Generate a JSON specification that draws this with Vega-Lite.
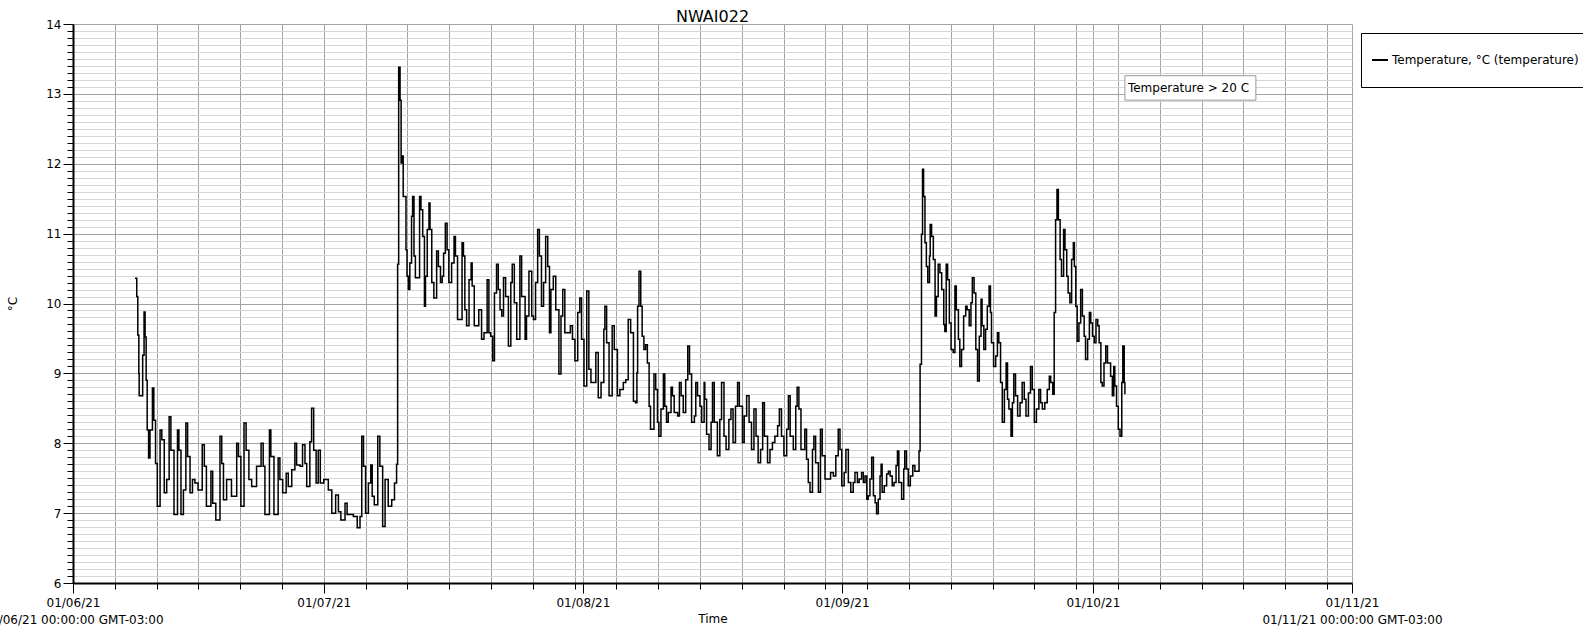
{
  "$schema": "https://vega.github.io/schema/vega-lite/v6.json",
  "width": 1279,
  "height": 559,
  "autosize": {"type": "none"},
  "padding": {"left": 73, "top": 24, "right": 231, "bottom": 46},
  "background": "white",
  "config": {"view": {"stroke": null}, "font": "DejaVu Sans"},
  "title": {"text": "NWAI022", "font": "DejaVu Sans", "fontSize": 16, "fontWeight": "normal", "color": "black", "anchor": "middle", "frame": "group", "baseline": "alphabetic", "offset": 3, "dy": 23},
  "layer": [
    {
      "data": {"values": [
        {"t":"2021-06-08T10:00","v":10.36},{"t":"2021-06-08T15:00","v":10.1},{"t":"2021-06-08T18:00","v":9.55},{"t":"2021-06-08T21:00","v":9.0},{"t":"2021-06-08T22:00","v":8.68},
        {"t":"2021-06-09T07:00","v":8.68},{"t":"2021-06-09T08:00","v":9.26},{"t":"2021-06-09T12:00","v":9.88},{"t":"2021-06-09T15:00","v":9.52},{"t":"2021-06-09T18:00","v":8.9},{"t":"2021-06-09T21:00","v":8.19},
        {"t":"2021-06-10T01:00","v":7.79},{"t":"2021-06-10T05:00","v":8.19},{"t":"2021-06-10T12:00","v":8.79},{"t":"2021-06-10T16:00","v":8.33},{"t":"2021-06-10T21:00","v":7.71},
        {"t":"2021-06-11T02:00","v":7.1},{"t":"2021-06-11T10:00","v":8.19},{"t":"2021-06-11T15:00","v":8.05},{"t":"2021-06-11T22:00","v":7.29},
        {"t":"2021-06-12T05:00","v":7.48},{"t":"2021-06-12T12:00","v":8.38},{"t":"2021-06-12T17:00","v":7.9},
        {"t":"2021-06-13T02:00","v":6.98},{"t":"2021-06-13T12:00","v":8.19},{"t":"2021-06-13T16:00","v":7.9},{"t":"2021-06-13T22:00","v":6.98},
        {"t":"2021-06-14T05:00","v":7.33},{"t":"2021-06-14T12:00","v":8.29},{"t":"2021-06-14T17:00","v":7.81},
        {"t":"2021-06-15T00:00","v":7.29},{"t":"2021-06-15T07:00","v":7.48},{"t":"2021-06-15T14:00","v":7.43},{"t":"2021-06-15T23:00","v":7.33},
        {"t":"2021-06-16T11:00","v":7.98},{"t":"2021-06-16T17:00","v":7.67},{"t":"2021-06-16T23:00","v":7.1},
        {"t":"2021-06-17T12:00","v":7.6},{"t":"2021-06-17T17:00","v":7.14},
        {"t":"2021-06-18T02:00","v":6.9},{"t":"2021-06-18T14:00","v":8.1},{"t":"2021-06-18T19:00","v":7.71},
        {"t":"2021-06-19T00:00","v":7.19},{"t":"2021-06-19T09:00","v":7.48},{"t":"2021-06-19T23:00","v":7.24},
        {"t":"2021-06-20T14:00","v":8.0},{"t":"2021-06-20T19:00","v":7.81},
        {"t":"2021-06-21T02:00","v":7.1},{"t":"2021-06-21T11:00","v":8.29},{"t":"2021-06-21T17:00","v":7.9},
        {"t":"2021-06-22T01:00","v":7.48},{"t":"2021-06-22T09:00","v":7.38},{"t":"2021-06-22T23:00","v":7.67},
        {"t":"2021-06-23T12:00","v":8.0},{"t":"2021-06-23T18:00","v":7.67},{"t":"2021-06-23T23:00","v":6.98},
        {"t":"2021-06-24T12:00","v":8.19},{"t":"2021-06-24T16:00","v":7.81},
        {"t":"2021-06-25T01:00","v":6.98},{"t":"2021-06-25T13:00","v":7.79},{"t":"2021-06-25T18:00","v":7.48},
        {"t":"2021-06-26T02:00","v":7.29},{"t":"2021-06-26T12:00","v":7.57},{"t":"2021-06-26T18:00","v":7.38},
        {"t":"2021-06-27T04:00","v":7.62},{"t":"2021-06-27T13:00","v":8.0},{"t":"2021-06-27T18:00","v":7.69},
        {"t":"2021-06-28T04:00","v":7.67},{"t":"2021-06-28T11:00","v":7.98},{"t":"2021-06-28T18:00","v":7.71},{"t":"2021-06-28T23:00","v":7.38},
        {"t":"2021-06-29T08:00","v":8.02},{"t":"2021-06-29T13:00","v":8.5},{"t":"2021-06-29T19:00","v":7.9},
        {"t":"2021-06-30T02:00","v":7.43},{"t":"2021-06-30T08:00","v":7.9},{"t":"2021-06-30T14:00","v":7.43},
        {"t":"2021-07-01T00:00","v":7.48},{"t":"2021-07-01T13:00","v":7.33},{"t":"2021-07-01T23:00","v":7.0},
        {"t":"2021-07-02T10:00","v":7.26},{"t":"2021-07-02T18:00","v":7.02},
        {"t":"2021-07-03T01:00","v":6.9},{"t":"2021-07-03T13:00","v":7.14},{"t":"2021-07-03T19:00","v":6.98},
        {"t":"2021-07-04T13:00","v":6.95},
        {"t":"2021-07-05T00:00","v":6.79},{"t":"2021-07-05T08:00","v":6.95},{"t":"2021-07-05T13:00","v":8.1},{"t":"2021-07-05T18:00","v":7.67},
        {"t":"2021-07-06T00:00","v":7.0},{"t":"2021-07-06T08:00","v":7.43},{"t":"2021-07-06T15:00","v":7.69},{"t":"2021-07-06T19:00","v":7.24},
        {"t":"2021-07-07T01:00","v":7.12},{"t":"2021-07-07T11:00","v":8.1},{"t":"2021-07-07T17:00","v":7.67},
        {"t":"2021-07-08T01:00","v":6.81},{"t":"2021-07-08T08:00","v":7.48},{"t":"2021-07-08T17:00","v":7.1},
        {"t":"2021-07-09T03:00","v":7.19},{"t":"2021-07-09T11:00","v":7.43},{"t":"2021-07-09T17:00","v":7.7},
        {"t":"2021-07-09T20:00","v":10.56},{"t":"2021-07-09T23:00","v":13.38},
        {"t":"2021-07-10T03:00","v":12.91},{"t":"2021-07-10T06:00","v":12.01},{"t":"2021-07-10T09:00","v":12.11},{"t":"2021-07-10T12:00","v":11.53},{"t":"2021-07-10T17:00","v":11.53},{"t":"2021-07-10T20:00","v":10.77},{"t":"2021-07-10T23:00","v":10.39},
        {"t":"2021-07-11T03:00","v":10.2},{"t":"2021-07-11T07:00","v":10.58},{"t":"2021-07-11T12:00","v":11.25},{"t":"2021-07-11T15:00","v":11.53},{"t":"2021-07-11T19:00","v":10.68},{"t":"2021-07-11T23:00","v":10.37},
        {"t":"2021-07-12T07:00","v":10.37},{"t":"2021-07-12T11:00","v":11.53},{"t":"2021-07-12T15:00","v":11.34},{"t":"2021-07-12T20:00","v":10.96},
        {"t":"2021-07-13T01:00","v":9.96},{"t":"2021-07-13T04:00","v":10.39},{"t":"2021-07-13T09:00","v":11.06},{"t":"2021-07-13T14:00","v":11.44},{"t":"2021-07-13T17:00","v":11.06},{"t":"2021-07-13T22:00","v":10.3},
        {"t":"2021-07-14T04:00","v":10.08},{"t":"2021-07-14T12:00","v":10.75},{"t":"2021-07-14T17:00","v":10.53},{"t":"2021-07-14T23:00","v":10.3},
        {"t":"2021-07-15T04:00","v":10.39},{"t":"2021-07-15T08:00","v":10.72},{"t":"2021-07-15T13:00","v":11.15},{"t":"2021-07-15T18:00","v":10.77},{"t":"2021-07-15T23:00","v":10.3},
        {"t":"2021-07-16T07:00","v":10.58},{"t":"2021-07-16T14:00","v":10.96},{"t":"2021-07-16T18:00","v":10.68},
        {"t":"2021-07-17T00:00","v":9.77},{"t":"2021-07-17T10:00","v":9.77},{"t":"2021-07-17T13:00","v":10.87},{"t":"2021-07-17T17:00","v":10.68},{"t":"2021-07-17T21:00","v":9.91},
        {"t":"2021-07-18T02:00","v":9.68},{"t":"2021-07-18T09:00","v":10.34},{"t":"2021-07-18T15:00","v":10.58},{"t":"2021-07-18T18:00","v":10.25},
        {"t":"2021-07-19T00:00","v":9.68},{"t":"2021-07-19T07:00","v":9.68},{"t":"2021-07-19T13:00","v":9.91},{"t":"2021-07-19T21:00","v":9.49},
        {"t":"2021-07-20T04:00","v":9.58},{"t":"2021-07-20T13:00","v":10.34},{"t":"2021-07-20T18:00","v":9.58},{"t":"2021-07-20T23:00","v":9.53},
        {"t":"2021-07-21T05:00","v":9.18},{"t":"2021-07-21T10:00","v":10.15},{"t":"2021-07-21T16:00","v":10.56},{"t":"2021-07-21T21:00","v":10.2},
        {"t":"2021-07-22T02:00","v":9.91},{"t":"2021-07-22T07:00","v":9.82},{"t":"2021-07-22T12:00","v":10.37},{"t":"2021-07-22T18:00","v":10.1},
        {"t":"2021-07-23T02:00","v":9.39},{"t":"2021-07-23T09:00","v":10.3},{"t":"2021-07-23T13:00","v":10.56},{"t":"2021-07-23T19:00","v":10.01},
        {"t":"2021-07-24T02:00","v":9.49},{"t":"2021-07-24T11:00","v":10.68},{"t":"2021-07-24T16:00","v":10.1},
        {"t":"2021-07-25T02:00","v":9.49},{"t":"2021-07-25T06:00","v":9.82},{"t":"2021-07-25T13:00","v":10.46},{"t":"2021-07-25T21:00","v":9.82},
        {"t":"2021-07-26T02:00","v":9.77},{"t":"2021-07-26T08:00","v":10.3},{"t":"2021-07-26T14:00","v":11.06},{"t":"2021-07-26T19:00","v":10.68},
        {"t":"2021-07-27T01:00","v":9.96},{"t":"2021-07-27T07:00","v":10.3},{"t":"2021-07-27T13:00","v":10.96},{"t":"2021-07-27T19:00","v":10.53},
        {"t":"2021-07-28T00:00","v":9.58},{"t":"2021-07-28T04:00","v":10.2},{"t":"2021-07-28T11:00","v":10.39},{"t":"2021-07-28T18:00","v":9.91},
        {"t":"2021-07-29T03:00","v":8.99},{"t":"2021-07-29T09:00","v":9.82},{"t":"2021-07-29T14:00","v":10.2},{"t":"2021-07-29T20:00","v":9.58},
        {"t":"2021-07-30T04:00","v":9.58},{"t":"2021-07-30T12:00","v":9.68},{"t":"2021-07-30T18:00","v":9.49},
        {"t":"2021-07-31T01:00","v":9.18},{"t":"2021-07-31T09:00","v":9.87},{"t":"2021-07-31T15:00","v":10.08},{"t":"2021-07-31T20:00","v":9.49},
        {"t":"2021-08-01T03:00","v":8.82},{"t":"2021-08-01T11:00","v":10.18},{"t":"2021-08-01T17:00","v":9.06},{"t":"2021-08-01T23:00","v":8.87},
        {"t":"2021-08-02T09:00","v":8.87},{"t":"2021-08-02T13:00","v":9.3},{"t":"2021-08-02T20:00","v":8.65},
        {"t":"2021-08-03T04:00","v":8.87},{"t":"2021-08-03T12:00","v":9.63},{"t":"2021-08-03T15:00","v":9.96},{"t":"2021-08-03T20:00","v":9.44},
        {"t":"2021-08-04T03:00","v":8.68},{"t":"2021-08-04T12:00","v":9.68},{"t":"2021-08-04T18:00","v":9.34},
        {"t":"2021-08-05T03:00","v":8.68},{"t":"2021-08-05T10:00","v":8.77},{"t":"2021-08-05T20:00","v":8.87},
        {"t":"2021-08-06T03:00","v":8.91},{"t":"2021-08-06T10:00","v":9.77},{"t":"2021-08-06T17:00","v":9.58},
        {"t":"2021-08-07T01:00","v":8.6},{"t":"2021-08-07T07:00","v":8.58},{"t":"2021-08-07T11:00","v":9.01},{"t":"2021-08-07T13:00","v":9.96},{"t":"2021-08-07T17:00","v":10.46},{"t":"2021-08-07T22:00","v":9.96},
        {"t":"2021-08-08T02:00","v":9.53},{"t":"2021-08-08T07:00","v":9.34},{"t":"2021-08-08T12:00","v":9.41},{"t":"2021-08-08T17:00","v":9.15},{"t":"2021-08-08T22:00","v":8.53},
        {"t":"2021-08-09T02:00","v":8.2},{"t":"2021-08-09T09:00","v":8.2},{"t":"2021-08-09T12:00","v":8.99},{"t":"2021-08-09T17:00","v":8.77},{"t":"2021-08-09T22:00","v":8.3},
        {"t":"2021-08-10T02:00","v":8.1},{"t":"2021-08-10T08:00","v":8.49},{"t":"2021-08-10T15:00","v":8.99},{"t":"2021-08-10T19:00","v":8.53},
        {"t":"2021-08-11T00:00","v":8.3},{"t":"2021-08-11T05:00","v":8.44},{"t":"2021-08-11T13:00","v":8.8},{"t":"2021-08-11T17:00","v":8.68},{"t":"2021-08-11T22:00","v":8.44},
        {"t":"2021-08-12T08:00","v":8.39},{"t":"2021-08-12T13:00","v":8.87},{"t":"2021-08-12T18:00","v":8.68},
        {"t":"2021-08-13T00:00","v":8.44},{"t":"2021-08-13T07:00","v":8.91},{"t":"2021-08-13T13:00","v":9.39},{"t":"2021-08-13T18:00","v":8.99},
        {"t":"2021-08-14T00:00","v":8.3},{"t":"2021-08-14T08:00","v":8.39},{"t":"2021-08-14T12:00","v":8.87},{"t":"2021-08-14T17:00","v":8.68},
        {"t":"2021-08-15T00:00","v":8.53},{"t":"2021-08-15T05:00","v":8.3},{"t":"2021-08-15T12:00","v":8.87},{"t":"2021-08-15T14:00","v":8.63},{"t":"2021-08-15T19:00","v":8.13},
        {"t":"2021-08-16T02:00","v":7.91},{"t":"2021-08-16T08:00","v":8.3},{"t":"2021-08-16T12:00","v":8.87},{"t":"2021-08-16T17:00","v":8.3},
        {"t":"2021-08-17T02:00","v":7.82},{"t":"2021-08-17T09:00","v":8.34},{"t":"2021-08-17T14:00","v":8.87},{"t":"2021-08-17T21:00","v":8.1},
        {"t":"2021-08-18T03:00","v":7.91},{"t":"2021-08-18T11:00","v":8.34},{"t":"2021-08-18T17:00","v":8.49},{"t":"2021-08-18T23:00","v":8.01},
        {"t":"2021-08-19T06:00","v":8.53},{"t":"2021-08-19T12:00","v":8.87},{"t":"2021-08-19T17:00","v":8.53},
        {"t":"2021-08-20T02:00","v":8.01},{"t":"2021-08-20T07:00","v":8.39},{"t":"2021-08-20T14:00","v":8.68},{"t":"2021-08-20T21:00","v":8.3},
        {"t":"2021-08-21T04:00","v":7.91},{"t":"2021-08-21T11:00","v":8.49},{"t":"2021-08-21T17:00","v":8.1},{"t":"2021-08-21T23:00","v":7.72},
        {"t":"2021-08-22T06:00","v":7.91},{"t":"2021-08-22T12:00","v":8.58},{"t":"2021-08-22T17:00","v":8.1},
        {"t":"2021-08-23T02:00","v":7.72},{"t":"2021-08-23T09:00","v":7.91},{"t":"2021-08-23T16:00","v":8.01},{"t":"2021-08-23T23:00","v":8.1},
        {"t":"2021-08-24T07:00","v":8.25},{"t":"2021-08-24T12:00","v":8.49},{"t":"2021-08-24T18:00","v":8.1},
        {"t":"2021-08-25T01:00","v":7.82},{"t":"2021-08-25T09:00","v":8.2},{"t":"2021-08-25T14:00","v":8.68},{"t":"2021-08-25T19:00","v":8.1},
        {"t":"2021-08-26T04:00","v":7.91},{"t":"2021-08-26T11:00","v":8.53},{"t":"2021-08-26T15:00","v":8.8},{"t":"2021-08-26T20:00","v":8.49},
        {"t":"2021-08-27T02:00","v":7.91},{"t":"2021-08-27T09:00","v":7.91},{"t":"2021-08-27T13:00","v":8.2},{"t":"2021-08-27T18:00","v":7.77},{"t":"2021-08-27T23:00","v":7.44},
        {"t":"2021-08-28T04:00","v":7.3},{"t":"2021-08-28T11:00","v":7.91},{"t":"2021-08-28T15:00","v":8.1},{"t":"2021-08-28T20:00","v":7.72},
        {"t":"2021-08-29T04:00","v":7.3},{"t":"2021-08-29T10:00","v":8.2},{"t":"2021-08-29T15:00","v":7.82},{"t":"2021-08-29T23:00","v":7.49},
        {"t":"2021-08-30T08:00","v":7.49},{"t":"2021-08-30T15:00","v":7.58},{"t":"2021-08-30T23:00","v":7.53},
        {"t":"2021-08-31T06:00","v":7.82},{"t":"2021-08-31T13:00","v":8.2},{"t":"2021-08-31T18:00","v":7.91},{"t":"2021-08-31T23:00","v":7.39},
        {"t":"2021-09-01T06:00","v":7.58},{"t":"2021-09-01T11:00","v":7.91},{"t":"2021-09-01T18:00","v":7.44},
        {"t":"2021-09-02T01:00","v":7.3},{"t":"2021-09-02T08:00","v":7.44},{"t":"2021-09-02T13:00","v":7.58},{"t":"2021-09-02T20:00","v":7.44},
        {"t":"2021-09-03T01:00","v":7.49},{"t":"2021-09-03T08:00","v":7.58},{"t":"2021-09-03T13:00","v":7.44},{"t":"2021-09-03T18:00","v":7.53},{"t":"2021-09-03T23:00","v":7.2},
        {"t":"2021-09-04T03:00","v":7.25},{"t":"2021-09-04T08:00","v":7.49},{"t":"2021-09-04T13:00","v":7.8},{"t":"2021-09-04T18:00","v":7.25},{"t":"2021-09-04T23:00","v":7.15},
        {"t":"2021-09-05T03:00","v":6.99},{"t":"2021-09-05T08:00","v":7.2},{"t":"2021-09-05T13:00","v":7.53},{"t":"2021-09-05T16:00","v":7.7},{"t":"2021-09-05T19:00","v":7.3},
        {"t":"2021-09-06T01:00","v":7.39},{"t":"2021-09-06T08:00","v":7.56},{"t":"2021-09-06T13:00","v":7.6},{"t":"2021-09-06T18:00","v":7.53},
        {"t":"2021-09-07T00:00","v":7.39},{"t":"2021-09-07T05:00","v":7.44},{"t":"2021-09-07T11:00","v":7.68},{"t":"2021-09-07T15:00","v":7.89},{"t":"2021-09-07T19:00","v":7.44},
        {"t":"2021-09-08T03:00","v":7.2},{"t":"2021-09-08T09:00","v":7.63},{"t":"2021-09-08T12:00","v":7.89},{"t":"2021-09-08T17:00","v":7.63},{"t":"2021-09-08T22:00","v":7.39},
        {"t":"2021-09-09T04:00","v":7.53},{"t":"2021-09-09T11:00","v":7.68},{"t":"2021-09-09T17:00","v":7.6},
        {"t":"2021-09-10T01:00","v":7.6},{"t":"2021-09-10T05:00","v":7.89},{"t":"2021-09-10T08:00","v":9.13},{"t":"2021-09-10T12:00","v":10.99},{"t":"2021-09-10T15:00","v":11.92},{"t":"2021-09-10T18:00","v":11.53},{"t":"2021-09-10T22:00","v":10.87},
        {"t":"2021-09-11T02:00","v":10.53},{"t":"2021-09-11T06:00","v":10.3},{"t":"2021-09-11T11:00","v":10.68},{"t":"2021-09-11T13:00","v":11.13},{"t":"2021-09-11T17:00","v":10.96},{"t":"2021-09-11T22:00","v":10.63},
        {"t":"2021-09-12T03:00","v":9.82},{"t":"2021-09-12T07:00","v":10.1},{"t":"2021-09-12T12:00","v":10.56},{"t":"2021-09-12T17:00","v":10.44},{"t":"2021-09-12T22:00","v":10.2},
        {"t":"2021-09-13T04:00","v":9.7},{"t":"2021-09-13T07:00","v":9.6},{"t":"2021-09-13T11:00","v":10.56},{"t":"2021-09-13T15:00","v":10.34},{"t":"2021-09-13T20:00","v":9.72},
        {"t":"2021-09-14T01:00","v":9.34},{"t":"2021-09-14T07:00","v":9.3},{"t":"2021-09-14T12:00","v":10.25},{"t":"2021-09-14T16:00","v":9.91},{"t":"2021-09-14T22:00","v":9.49},
        {"t":"2021-09-15T02:00","v":9.1},{"t":"2021-09-15T07:00","v":9.34},{"t":"2021-09-15T13:00","v":9.82},{"t":"2021-09-15T19:00","v":9.96},{"t":"2021-09-15T23:00","v":9.91},
        {"t":"2021-09-16T05:00","v":9.68},{"t":"2021-09-16T10:00","v":10.01},{"t":"2021-09-16T14:00","v":10.37},{"t":"2021-09-16T19:00","v":10.15},
        {"t":"2021-09-17T00:00","v":9.34},{"t":"2021-09-17T05:00","v":8.89},{"t":"2021-09-17T10:00","v":9.53},{"t":"2021-09-17T15:00","v":10.06},{"t":"2021-09-17T18:00","v":9.68},{"t":"2021-09-17T23:00","v":9.34},
        {"t":"2021-09-18T04:00","v":9.63},{"t":"2021-09-18T09:00","v":9.96},{"t":"2021-09-18T14:00","v":10.25},{"t":"2021-09-18T18:00","v":9.87},{"t":"2021-09-18T21:00","v":9.44},
        {"t":"2021-09-19T03:00","v":9.1},{"t":"2021-09-19T09:00","v":9.25},{"t":"2021-09-19T14:00","v":9.58},{"t":"2021-09-19T18:00","v":9.44},{"t":"2021-09-19T23:00","v":8.87},
        {"t":"2021-09-20T04:00","v":8.3},{"t":"2021-09-20T10:00","v":8.77},{"t":"2021-09-20T15:00","v":9.15},{"t":"2021-09-20T19:00","v":8.63},{"t":"2021-09-20T23:00","v":8.49},
        {"t":"2021-09-21T05:00","v":8.1},{"t":"2021-09-21T09:00","v":8.58},{"t":"2021-09-21T13:00","v":8.99},{"t":"2021-09-21T18:00","v":8.68},
        {"t":"2021-09-22T00:00","v":8.39},{"t":"2021-09-22T07:00","v":8.58},{"t":"2021-09-22T13:00","v":8.87},{"t":"2021-09-22T19:00","v":8.63},
        {"t":"2021-09-23T00:00","v":8.39},{"t":"2021-09-23T07:00","v":8.72},{"t":"2021-09-23T13:00","v":9.1},{"t":"2021-09-23T18:00","v":8.77},
        {"t":"2021-09-24T00:00","v":8.3},{"t":"2021-09-24T06:00","v":8.49},{"t":"2021-09-24T13:00","v":8.77},{"t":"2021-09-24T18:00","v":8.58},{"t":"2021-09-24T23:00","v":8.49},
        {"t":"2021-09-25T06:00","v":8.58},{"t":"2021-09-25T13:00","v":8.77},{"t":"2021-09-25T19:00","v":8.96},{"t":"2021-09-25T23:00","v":8.87},
        {"t":"2021-09-26T05:00","v":8.7},{"t":"2021-09-26T09:00","v":9.87},{"t":"2021-09-26T13:00","v":11.2},{"t":"2021-09-26T17:00","v":11.63},{"t":"2021-09-26T21:00","v":11.2},
        {"t":"2021-09-27T02:00","v":10.63},{"t":"2021-09-27T06:00","v":10.39},{"t":"2021-09-27T12:00","v":11.06},{"t":"2021-09-27T16:00","v":10.77},{"t":"2021-09-27T21:00","v":10.39},
        {"t":"2021-09-28T01:00","v":10.15},{"t":"2021-09-28T06:00","v":10.01},{"t":"2021-09-28T11:00","v":10.63},{"t":"2021-09-28T16:00","v":10.87},{"t":"2021-09-28T19:00","v":10.53},{"t":"2021-09-28T23:00","v":9.96},
        {"t":"2021-09-29T03:00","v":9.46},{"t":"2021-09-29T08:00","v":9.72},{"t":"2021-09-29T13:00","v":10.2},{"t":"2021-09-29T18:00","v":9.82},{"t":"2021-09-29T23:00","v":9.53},
        {"t":"2021-09-30T03:00","v":9.2},{"t":"2021-09-30T09:00","v":9.49},{"t":"2021-09-30T14:00","v":9.87},{"t":"2021-09-30T18:00","v":9.72},{"t":"2021-09-30T23:00","v":9.53},
        {"t":"2021-10-01T04:00","v":9.44},{"t":"2021-10-01T09:00","v":9.77},{"t":"2021-10-01T14:00","v":9.68},{"t":"2021-10-01T18:00","v":9.44},{"t":"2021-10-01T23:00","v":8.87},
        {"t":"2021-10-02T03:00","v":8.82},{"t":"2021-10-02T08:00","v":9.15},{"t":"2021-10-02T13:00","v":9.39},{"t":"2021-10-02T18:00","v":9.15},{"t":"2021-10-02T22:00","v":9.15},
        {"t":"2021-10-03T03:00","v":8.96},{"t":"2021-10-03T08:00","v":8.68},{"t":"2021-10-03T12:00","v":9.1},{"t":"2021-10-03T15:00","v":8.82},{"t":"2021-10-03T20:00","v":8.53},
        {"t":"2021-10-04T01:00","v":8.2},{"t":"2021-10-04T06:00","v":8.1},{"t":"2021-10-04T11:00","v":8.87},{"t":"2021-10-04T14:00","v":9.39},{"t":"2021-10-04T18:00","v":8.87},{"t":"2021-10-04T20:00","v":8.7}
      ]},
      "mark": {"type": "line", "interpolate": "step-after", "strokeWidth": 1.5},
      "encoding": {
        "x": {
          "field": "t", "type": "temporal",
          "scale": {"domain": [{"year": 2021, "month": 6, "date": 1}, {"year": 2021, "month": 11, "date": 1}]},
          "axis": {
            "title": "Time", "titleFont": "DejaVu Sans", "titleFontSize": 12, "titleFontWeight": "normal", "titleColor": "black", "titleBaseline": "middle", "titleY": 35,
            "tickCount": 500,
            "values": [
              {"year": 2021, "month": 6, "date": 1}, {"year": 2021, "month": 6, "date": 6}, {"year": 2021, "month": 6, "date": 11}, {"year": 2021, "month": 6, "date": 16}, {"year": 2021, "month": 6, "date": 21}, {"year": 2021, "month": 6, "date": 26},
              {"year": 2021, "month": 7, "date": 1}, {"year": 2021, "month": 7, "date": 6}, {"year": 2021, "month": 7, "date": 11}, {"year": 2021, "month": 7, "date": 16}, {"year": 2021, "month": 7, "date": 21}, {"year": 2021, "month": 7, "date": 26}, {"year": 2021, "month": 7, "date": 31},
              {"year": 2021, "month": 8, "date": 1}, {"year": 2021, "month": 8, "date": 5}, {"year": 2021, "month": 8, "date": 10}, {"year": 2021, "month": 8, "date": 15}, {"year": 2021, "month": 8, "date": 20}, {"year": 2021, "month": 8, "date": 25}, {"year": 2021, "month": 8, "date": 30},
              {"year": 2021, "month": 9, "date": 1}, {"year": 2021, "month": 9, "date": 4}, {"year": 2021, "month": 9, "date": 9}, {"year": 2021, "month": 9, "date": 14}, {"year": 2021, "month": 9, "date": 19}, {"year": 2021, "month": 9, "date": 24}, {"year": 2021, "month": 9, "date": 29},
              {"year": 2021, "month": 10, "date": 1}, {"year": 2021, "month": 10, "date": 4}, {"year": 2021, "month": 10, "date": 9}, {"year": 2021, "month": 10, "date": 14}, {"year": 2021, "month": 10, "date": 19}, {"year": 2021, "month": 10, "date": 24}, {"year": 2021, "month": 10, "date": 29},
              {"year": 2021, "month": 11, "date": 1}
            ],
            "labelExpr": "date(datum.value) == 1 ? ((month(datum.value) == 5 || month(datum.value) == 10) ? [timeFormat(datum.value, '%d/%m/%y'), timeFormat(datum.value, '%d/%m/%y %H:%M:%S') + '  GMT-03:00'] : timeFormat(datum.value, '%d/%m/%y')) : ''",
            "labelFont": "DejaVu Sans", "labelFontSize": 12, "labelColor": "black", "labelOverlap": false, "labelBound": false, "labelFlush": false, "labelPadding": 4, "labelLineHeight": 17, "labelLimit": 600,
            "tickColor": "black", "tickWidth": 1,
            "tickSize": {"condition": {"test": "date(datum.value) == 1", "value": 10}, "value": 6},
            "domainColor": "black", "domainWidth": 2,
            "grid": true, "gridColor": "#a3a3a3", "gridWidth": 1
          }
        },
        "y": {
          "field": "v", "type": "quantitative",
          "scale": {"domain": [6, 14], "nice": false, "zero": false},
          "axis": {
            "title": "°C", "titleFont": "DejaVu Sans", "titleFontSize": 12, "titleFontWeight": "normal", "titleColor": "black", "titleX": -61, "titleY": 279.5, "titleAlign": "center", "titleBaseline": "middle",
            "tickCount": 80,
            "labelExpr": "abs(datum.value - round(datum.value)) < 0.001 ? format(datum.value, 'd') : ''",
            "labelFont": "DejaVu Sans", "labelFontSize": 12, "labelColor": "black", "labelOverlap": false, "labelBound": false, "labelFlush": false, "labelPadding": 2,
            "tickColor": "black", "tickWidth": 1,
            "tickSize": {"condition": {"test": "abs(datum.value - round(datum.value)) < 0.001", "value": 10}, "value": 6},
            "domainColor": "black", "domainWidth": 2,
            "grid": true, "gridWidth": 1,
            "gridColor": {"condition": {"test": "abs(datum.value - round(datum.value)) < 0.001", "value": "#a3a3a3"}, "value": "#d6d6d6"}
          }
        },
        "color": {
          "datum": "Temperature, °C (temperature)",
          "scale": {"range": ["#000000"]},
          "legend": {
            "orient": "none", "legendX": 1288, "legendY": 9, "title": null,
            "symbolType": "stroke", "symbolStrokeWidth": 2, "symbolSize": 256,
            "labelFont": "DejaVu Sans", "labelFontSize": 12, "labelColor": "black", "labelLimit": 400, "labelOffset": 3,
            "strokeColor": "black", "fillColor": "white", "padding": 10, "clipHeight": 34
          }
        }
      }
    },
    {
      "data": {"values": [{"start": "2021-10-04T20:00", "end": "2021-10-20T12:00", "top": 13.26, "bottom": 12.91, "label": "Temperature > 20 C"}]},
      "mark": {"type": "rect", "fill": "white", "stroke": "#9a9a9a", "strokeWidth": 1},
      "encoding": {
        "x": {"field": "start", "type": "temporal", "title": "Time"},
        "x2": {"field": "end"},
        "y": {"field": "top", "type": "quantitative", "title": "°C"},
        "y2": {"field": "bottom"}
      }
    },
    {
      "data": {"values": [{"start": "2021-10-04T20:00", "end": "2021-10-20T12:00", "top": 13.26, "bottom": 12.91, "label": "Temperature > 20 C"}]},
      "mark": {"type": "text", "align": "left", "baseline": "middle", "dx": 3, "dy": 12.5, "font": "DejaVu Sans", "fontSize": 12, "color": "black"},
      "encoding": {
        "x": {"field": "start", "type": "temporal", "title": "Time"},
        "y": {"field": "top", "type": "quantitative", "title": "°C"},
        "text": {"field": "label"}
      }
    }
  ]
}
